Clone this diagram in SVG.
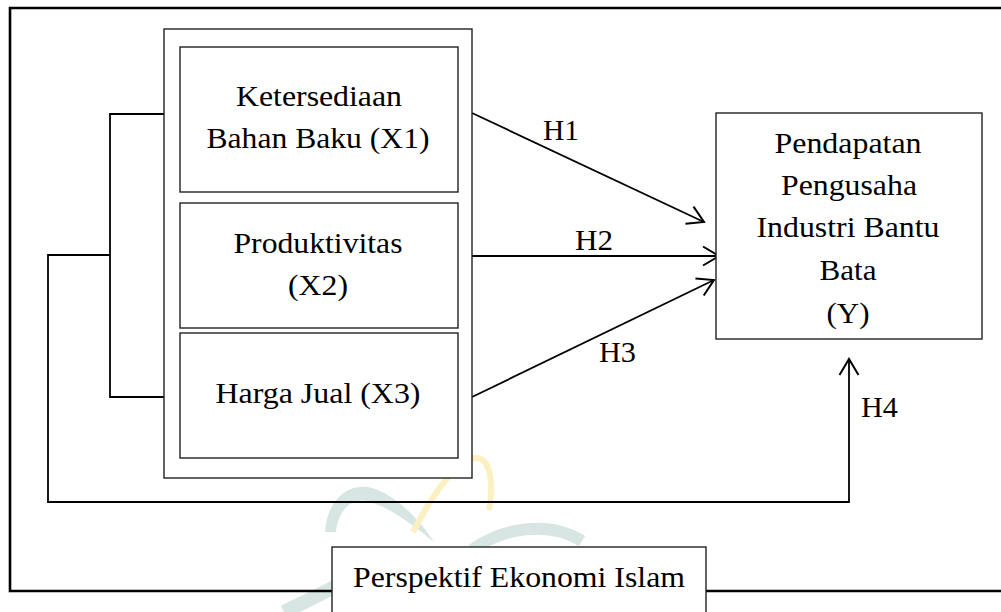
<svg xmlns="http://www.w3.org/2000/svg" width="1001" height="612" viewBox="0 0 1001 612">
<style>
.box{fill:#fff;stroke:#222;stroke-width:1.4}
.frame{fill:none;stroke:#000;stroke-width:2.6}
.ln{fill:none;stroke:#000;stroke-width:1.8}
.t{font-family:"Liberation Serif","Times New Roman",serif;font-size:30px;fill:#000;text-anchor:middle}
.h{font-family:"Liberation Serif","Times New Roman",serif;font-size:30px;fill:#000}
</style>
<defs>
<marker id="arr" markerUnits="userSpaceOnUse" markerWidth="24" markerHeight="24" refX="18" refY="12" orient="auto" viewBox="0 0 24 24">
<path d="M2,2.5 L18,12 L2,21.5" fill="none" stroke="#000" stroke-width="2"/>
</marker>
</defs>
<rect width="1001" height="612" fill="#fff"/>
<g id="watermark">
<path d="M325,532 C327,500 348,482 372,488 C396,495 420,520 434,542 C412,524 388,506 366,501 C350,498 338,512 336,532 Z" fill="#d8e6e3"/>
<path d="M472,550 C502,528 548,520 582,541" fill="none" stroke="#d8e6e3" stroke-width="12"/>
<path d="M336,586 C318,596 300,604 284,612" fill="none" stroke="#d8e6e3" stroke-width="14"/>
<path d="M413,532 C438,484 462,456 478,458 C492,461 493,488 489,510" fill="none" stroke="#faf0c2" stroke-width="6"/>
</g>
<g id="frame">
<path class="frame" d="M332,591 L10,591 L10,8 L1010,8"/>
<path class="frame" d="M706,591 L1010,591"/>
</g>
<g id="connectors">
<path class="ln" d="M164,114 L110,114 L110,397 L164,397"/>
<path class="ln" d="M110,255 L48,255 L48,502 L849,502 L849,359" marker-end="url(#arr)"/>
<path class="ln" d="M472,113 L704,222" marker-end="url(#arr)"/>
<path class="ln" d="M472,256 L719,256" marker-end="url(#arr)"/>
<path class="ln" d="M472,397 L714,280" marker-end="url(#arr)"/>
</g>
<g id="group-x">
<rect class="box" x="164" y="29" width="308" height="449"/>
</g>
<g id="x1">
<rect class="box" x="180" y="47" width="278" height="145"/>
<text class="t" x="319" y="106" textLength="166" lengthAdjust="spacingAndGlyphs">Ketersediaan</text>
<text class="t" x="318" y="148" textLength="223" lengthAdjust="spacingAndGlyphs">Bahan Baku (X1)</text>
</g>
<g id="x2">
<rect class="box" x="180" y="203" width="278" height="125"/>
<text class="t" x="318" y="253" textLength="169" lengthAdjust="spacingAndGlyphs">Produktivitas</text>
<text class="t" x="318" y="295" textLength="60" lengthAdjust="spacingAndGlyphs">(X2)</text>
</g>
<g id="x3">
<rect class="box" x="180" y="333" width="278" height="125"/>
<text class="t" x="318" y="403" textLength="205" lengthAdjust="spacingAndGlyphs">Harga Jual (X3)</text>
</g>
<g id="y">
<rect class="box" x="716" y="113" width="266" height="226"/>
<text class="t" x="848" y="153" textLength="147" lengthAdjust="spacingAndGlyphs">Pendapatan</text>
<text class="t" x="849" y="195" textLength="136" lengthAdjust="spacingAndGlyphs">Pengusaha</text>
<text class="t" x="848" y="237" textLength="183" lengthAdjust="spacingAndGlyphs">Industri Bantu</text>
<text class="t" x="848" y="280" textLength="57" lengthAdjust="spacingAndGlyphs">Bata</text>
<text class="t" x="848" y="323" textLength="43" lengthAdjust="spacingAndGlyphs">(Y)</text>
</g>
<g id="labels">
<text class="h" x="543" y="140" textLength="36" lengthAdjust="spacingAndGlyphs">H1</text>
<text class="h" x="575" y="250" textLength="38" lengthAdjust="spacingAndGlyphs">H2</text>
<text class="h" x="599" y="362" textLength="37" lengthAdjust="spacingAndGlyphs">H3</text>
<text class="h" x="861" y="417" textLength="37" lengthAdjust="spacingAndGlyphs">H4</text>
</g>
<g id="perspektif">
<rect class="box" x="332" y="547" width="374" height="80"/>
<text class="h" x="353" y="587" textLength="332" lengthAdjust="spacingAndGlyphs">Perspektif Ekonomi Islam</text>
</g>
</svg>
